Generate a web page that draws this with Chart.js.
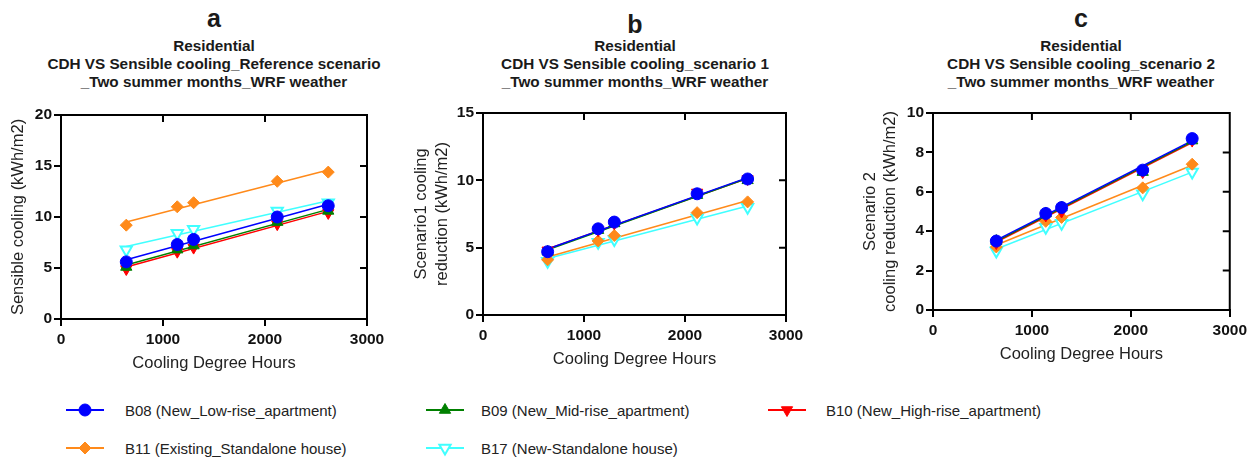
<!DOCTYPE html>
<html><head><meta charset="utf-8">
<script src="https://cdn.jsdelivr.net/npm/chart.js@4.4.1/dist/chart.umd.min.js"></script>
<style>
html,body{margin:0;padding:0;background:#fff;}
body{width:1251px;height:459px;position:relative;overflow:hidden;font-family:"Liberation Sans",Arial,sans-serif;color:#1a1a1a;}
canvas{position:absolute;}
.letter{position:absolute;width:400px;text-align:center;font-weight:bold;font-size:25px;line-height:25px;}
.sub{position:absolute;width:440px;text-align:center;font-weight:bold;font-size:15.3px;line-height:18.3px;white-space:nowrap;}
.leg{position:absolute;height:20px;display:flex;align-items:center;font-size:15px;white-space:nowrap;color:#222;}
.leg svg{position:absolute;left:0;top:0;}
</style></head><body>
<div class="letter" style="left:14px;top:6px;">a</div>
<div class="sub" style="left:-6px;top:36.5px;">Residential<br>CDH VS Sensible cooling_Reference scenario<br>_Two summer months_WRF weather</div>
<div class="letter" style="left:435px;top:12px;">b</div>
<div class="sub" style="left:415px;top:36.5px;">Residential<br>CDH VS Sensible cooling_scenario 1<br>_Two summer months_WRF weather</div>
<div class="letter" style="left:881px;top:6px;">c</div>
<div class="sub" style="left:861px;top:36.5px;">Residential<br>CDH VS Sensible cooling_scenario 2<br>_Two summer months_WRF weather</div>

<canvas id="ca" width="397" height="279" style="left:0px;top:100px;"></canvas>
<canvas id="cb" width="416" height="277" style="left:400px;top:98px;"></canvas>
<canvas id="cc" width="411" height="272" style="left:840px;top:98px;"></canvas>

<div id="legend"></div>

<script>
// ---------- DATA ----------
const cdh = [640, 1140, 1300, 2120, 2620];          // Cooling Degree Hours
const fitX = [640, 2620];                            // extent of regression lines
const seriesNames = [
  'B08 (New_Low-rise_apartment)',
  'B09 (New_Mid-rise_apartment)',
  'B10 (New_High-rise_apartment)',
  'B11 (Existing_Standalone house)',
  'B17 (New-Standalone house)'
];
const xTicks = [0, 1000, 2000, 3000];

// Panel a: Sensible cooling (kWh/m2), reference scenario
const aB08 = [5.6, 7.3, 7.8, 10.0, 11.1];
const aB09 = [5.1, 6.8, 7.2, 9.5, 10.6];
const aB10 = [4.9, 6.6, 7.0, 9.3, 10.4];
const aB11 = [9.2, 11.0, 11.4, 13.5, 14.4];
const aB17 = [6.8, 8.4, 8.8, 10.6, 11.4];
const aFitB08 = [5.8, 11.25];
const aFitB09 = [5.3, 10.75];
const aFitB10 = [5.1, 10.55];
const aFitB11 = [9.5, 14.6];
const aFitB17 = [7.1, 11.6];
const aYTicks = [0, 5, 10, 15, 20];

// Panel b: Scenario1 cooling reduction (kWh/m2)
const bB08 = [4.7, 6.4, 6.9, 9.0, 10.1];
const bB09 = [4.7, 6.3, 6.8, 8.9, 10.0];
const bB10 = [4.8, 6.3, 6.8, 9.1, 10.1];
const bB11 = [4.1, 5.5, 5.9, 7.6, 8.4];
const bB17 = [4.0, 5.4, 5.6, 7.2, 8.0];
const bFitB08 = [4.9, 10.2];
const bFitB09 = [4.85, 10.15];
const bFitB10 = [4.9, 10.15];
const bFitB11 = [4.3, 8.5];
const bFitB17 = [4.2, 8.1];
const bYTicks = [0, 5, 10, 15];

// Panel c: Scenario 2 cooling reduction (kWh/m2)
const cB08 = [3.5, 4.9, 5.2, 7.1, 8.7];
const cB09 = [3.5, 4.9, 5.2, 7.0, 8.6];
const cB10 = [3.4, 4.8, 5.0, 7.0, 8.6];
const cB11 = [3.2, 4.5, 4.7, 6.2, 7.4];
const cB17 = [3.0, 4.2, 4.4, 5.9, 7.0];
const cFitB08 = [3.55, 8.6];
const cFitB09 = [3.5, 8.55];
const cFitB10 = [3.45, 8.5];
const cFitB11 = [3.3, 7.35];
const cFitB17 = [3.1, 7.0];
const cYTicks = [0, 2, 4, 6, 8, 10];

// ---------- STYLES ----------
const styles = [
  {color:'#0000FF', fill:'#0000FF', shape:'circle',   radius:6,   rot:0,   bw:1},
  {color:'#008000', fill:'#008000', shape:'triangle', radius:6.5, rot:0,   bw:1},
  {color:'#FF0000', fill:'#FF0000', shape:'triangle', radius:6.5, rot:180, bw:1},
  {color:'#FF8A1A', fill:'#FF8A1A', shape:'rectRot',  radius:6,   rot:0,   bw:1},
  {color:'#40FFFF', fill:'#FFFFFF', shape:'triangle', radius:6.5, rot:180, bw:2}
];

const FAM = '"Liberation Sans", Arial, sans-serif';
Chart.defaults.font.family = FAM;
Chart.defaults.color = '#111';

const framePlugin = {
  id: 'frame',
  afterDraw(chart) {
    const {ctx, chartArea: a, scales: {x, y}} = chart;
    ctx.save();
    ctx.strokeStyle = '#000';
    ctx.lineWidth = 2;
    ctx.beginPath();
    ctx.moveTo(a.left - 1, a.top);
    ctx.lineTo(a.right, a.top);
    ctx.lineTo(a.right, a.bottom + 1);
    x.ticks.forEach(t => {
      const px = x.getPixelForValue(t.value);
      ctx.moveTo(px, a.top); ctx.lineTo(px, a.top + 7);
    });
    y.ticks.forEach(t => {
      const py = y.getPixelForValue(t.value);
      ctx.moveTo(a.right, py); ctx.lineTo(a.right - 7, py);
    });
    ctx.stroke();
    ctx.restore();
  }
};

function pts(vals) { return cdh.map((x, i) => ({x: x, y: vals[i]})); }
function fit(ends) { return fitX.map((x, i) => ({x: x, y: ends[i]})); }

function makeChart(id, series, fits, yTicks, yTitle, yWidth, yTitlePad, rightPad) {
  const datasets = [];
  series.forEach((vals, i) => {
    const s = styles[i];
    datasets.push({
      label: seriesNames[i], data: pts(vals), showLine: false,
      pointStyle: s.shape, pointRadius: s.radius, pointRotation: s.rot,
      pointBackgroundColor: s.fill, pointBorderColor: s.color, pointBorderWidth: s.bw,
      pointHoverRadius: s.radius
    });
  });
  fits.forEach((ends, i) => {
    const s = styles[i];
    datasets.push({
      label: seriesNames[i] + ' fit', data: fit(ends), showLine: true,
      borderColor: s.color, borderWidth: 1.5, pointRadius: 0, fill: false
    });
  });
  const yMax = yTicks[yTicks.length - 1];
  const tickFont = {family: FAM, size: 15.5, weight: 'bold'};
  return new Chart(document.getElementById(id), {
    type: 'scatter',
    data: {datasets},
    options: {
      responsive: false, animation: false, devicePixelRatio: 1,
      clip: false,
      layout: {padding: {top: 15, right: rightPad, left: 0, bottom: 0}},
      plugins: {legend: {display: false}, tooltip: {enabled: false}},
      scales: {
        x: {
          type: 'linear', min: 0, max: 3000,
          afterBuildTicks: s => { s.ticks = xTicks.map(v => ({value: v})); },
          afterFit: s => { s.height = 60; },
          ticks: {font: tickFont, color: '#111', padding: 4, maxRotation: 0, callback: v => String(v)},
          grid: {drawOnChartArea: false, drawTicks: true, tickLength: 7, color: '#000', lineWidth: 2},
          border: {display: true, color: '#000', width: 2},
          title: {display: true, text: 'Cooling Degree Hours', font: {family: FAM, size: 16.5}, color: '#222', padding: {top: 0, bottom: 5.4}}
        },
        y: {
          type: 'linear', min: 0, max: yMax,
          afterBuildTicks: s => { s.ticks = yTicks.map(v => ({value: v})); },
          afterFit: s => { s.width = yWidth; },
          ticks: {font: tickFont, color: '#111', padding: 2, callback: v => String(v)},
          grid: {drawOnChartArea: false, drawTicks: true, tickLength: 7, color: '#000', lineWidth: 2},
          border: {display: true, color: '#000', width: 2},
          title: {display: true, text: yTitle, font: {family: FAM, size: 16.5, lineHeight: 1.26}, color: '#222', padding: {top: yTitlePad, bottom: 0}}
        }
      }
    },
    plugins: [framePlugin]
  });
}

makeChart('ca', [aB08, aB09, aB10, aB11, aB17], [aFitB08, aFitB09, aFitB10, aFitB11, aFitB17],
  aYTicks, 'Sensible cooling (kWh/m2)', 61, 7.6, 30);
makeChart('cb', [bB08, bB09, bB10, bB11, bB17], [bFitB08, bFitB09, bFitB10, bFitB11, bFitB17],
  bYTicks, ['Scenario1 cooling', 'reduction (kWh/m2)'], 83, 11.3, 30);
makeChart('cc', [cB08, cB09, cB10, cB11, cB17], [cFitB08, cFitB09, cFitB10, cFitB11, cFitB17],
  cYTicks, ['Scenario 2', 'cooling reduction (kWh/m2)'], 93, 19.6, 21);

// ---------- LEGEND (HTML) ----------
const legendPos = [
  {mx: 85, tx: 125, y: 410}, {mx: 445, tx: 481, y: 410}, {mx: 787, tx: 826, y: 410},
  {mx: 85, tx: 125, y: 448}, {mx: 445, tx: 481, y: 448}
];
function markerSvg(s) {
  const c = 20, r = s.radius;
  let shape = '';
  if (s.shape === 'circle') {
    shape = `<circle cx="${c}" cy="10" r="${r}" fill="${s.fill}" stroke="${s.color}" stroke-width="${s.bw}"/>`;
  } else if (s.shape === 'rectRot') {
    shape = `<polygon points="${c},${10 - r} ${c + r},10 ${c},${10 + r} ${c - r},10" fill="${s.fill}" stroke="${s.color}" stroke-width="${s.bw}"/>`;
  } else {
    const d = s.rot ? -1 : 1;
    const h = r * Math.sqrt(3) / 2;
    shape = `<polygon points="${c},${10 - d * r} ${c + h},${10 + d * r / 2} ${c - h},${10 + d * r / 2}" fill="${s.fill}" stroke="${s.color}" stroke-width="${s.bw}"/>`;
  }
  return `<svg width="40" height="20" viewBox="0 0 40 20"><line x1="1" y1="10" x2="39" y2="10" stroke="${s.color}" stroke-width="2"/>${shape}</svg>`;
}
const leg = document.getElementById('legend');
seriesNames.forEach((name, i) => {
  const p = legendPos[i];
  const m = document.createElement('div');
  m.className = 'leg';
  m.style.left = (p.mx - 20) + 'px';
  m.style.top = (p.y - 10) + 'px';
  m.style.width = '40px';
  m.innerHTML = markerSvg(styles[i]);
  leg.appendChild(m);
  const t = document.createElement('div');
  t.className = 'leg';
  t.style.left = p.tx + 'px';
  t.style.top = (p.y - 10) + 'px';
  t.textContent = name;
  leg.appendChild(t);
});
</script>
</body></html>
